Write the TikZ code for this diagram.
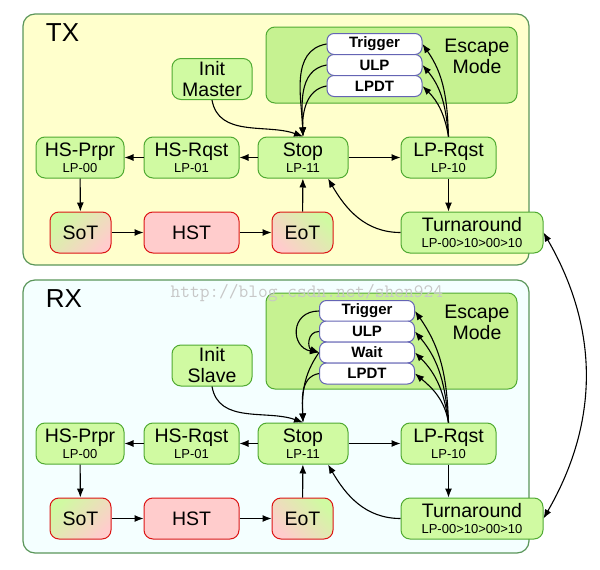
\documentclass[tikz,border=0pt]{standalone}
\usepackage{fontspec}
\setmainfont{Liberation Sans}
\usetikzlibrary{arrows.meta}

\definecolor{keltainen}{RGB}{255,255,204}
\definecolor{syaani}{RGB}{244,255,255}
\definecolor{reuna}{RGB}{90,150,90}
\definecolor{vihrea}{RGB}{80,170,50}
\definecolor{vaalea}{RGB}{208,250,162}
\definecolor{pako}{RGB}{198,242,145}
\definecolor{sininen}{RGB}{100,100,180}
\definecolor{punainen}{RGB}{220,20,20}
\definecolor{pinkki}{RGB}{255,204,204}

\begin{document}
\begin{tikzpicture}[x=1pt,y=-1pt,>={Latex[length=9pt,width=7pt]},line width=1.1pt,
  tila/.style={draw=vihrea,fill=vaalea,line width=1pt,rounded corners=9pt,align=center,
    inner sep=0pt,minimum height=41pt,font=\fontsize{19.5}{16}\selectfont},
  hs/.style={draw=punainen,line width=1pt,rounded corners=9pt,inner sep=0pt,
    minimum height=41pt,font=\fontsize{19.5}{16}\selectfont},
  esc/.style={draw=sininen,fill=white,line width=1pt,rounded corners=7pt,inner sep=0pt,
    minimum width=95pt,minimum height=21pt,font=\bfseries\fontsize{15}{15}\selectfont},
  laatikko/.style={draw=vihrea,fill=pako,line width=1pt,rounded corners=9pt},
  otsikko/.style={font=\fontsize{26}{26}\selectfont}]
\newcommand\pieni[1]{{\fontsize{13}{16}\selectfont #1}}
\useasboundingbox (0,0) rectangle (600,570);
\draw[draw=reuna,fill=keltainen,line width=1.2pt,rounded corners=12pt] (23,14) rectangle (529,265);
\draw[draw=reuna,fill=syaani,line width=1.2pt,rounded corners=12pt] (23,280) rectangle (529,553);
% TX
\begin{scope}
\draw[laatikko] (266,27) rectangle (517,103);
\node[otsikko] (tx) at (62.5,32.5) {TX};
\node[align=center,font=\fontsize{19.5}{21}\selectfont] (em) at (477,56) {Escape\\Mode};
\node[esc] (trig) at (374.5,44) {Trigger};
\node[esc] (ulp) at (374.5,65) {ULP};
\node[esc] (lpdt) at (374.5,86) {LPDT};
\node[tila,minimum width=80pt,font=\fontsize{19.5}{21}\selectfont] (init) at (212,79) {Init\\Master};
\node[tila,minimum width=88pt] (prpr) at (80,157.5) {HS-Prpr\\\pieni{LP-00}};
\node[tila,minimum width=95pt] (rqst) at (191.5,157.5) {HS-Rqst\\\pieni{LP-01}};
\node[tila,minimum width=90pt] (stop) at (303,157.5) {Stop\\\pieni{LP-11}};
\node[tila,minimum width=95pt] (lprq) at (448.5,157.5) {LP-Rqst\\\pieni{LP-10}};
\node[hs,minimum width=61pt,top color=vaalea,bottom color=pinkki,shading angle=45] (sot) at (80.5,232.5) {SoT};
\node[hs,minimum width=95pt,fill=pinkki] (hst) at (191.5,232.5) {HST};
\node[hs,minimum width=61pt,top color=vaalea,bottom color=pinkki,shading angle=-45] (eot) at (302.5,232.5) {EoT};
\node[tila,minimum width=142pt] (t1) at (472,232.5) {Turnaround\\\pieni{LP-00>10>00>10}};
\draw[->] (init.south) to[out=-80,in=160] (stop.north);
\draw[->] (trig.west) to[out=190,in=92] (stop.north);
\draw[->] (ulp.west) to[out=190,in=92] (stop.north);
\draw[->] (lpdt.west) to[out=190,in=92] (stop.north);
\draw[->] (lprq.north) to[out=92,in=-55] (trig.east);
\draw[->] (lprq.north) to[out=95,in=-50] (ulp.east);
\draw[->] (lprq.north) to[out=100,in=-45] (lpdt.east);
\draw[->] (stop) -- (lprq);
\draw[->] (stop) -- (rqst);
\draw[->] (rqst) -- (prpr);
\draw[->] (prpr) -- (sot);
\draw[->] (sot) -- (hst);
\draw[->] (hst) -- (eot);
\draw[->] (eot) -- (stop);
\draw[->] (lprq.south) -- (lprq.south |- t1.north);
\draw[->] (t1.west) to[out=180,in=-60] (stop.-40);
\end{scope}
% RX
\begin{scope}[yshift=-286pt]
\draw[laatikko] (266,7) rectangle (517,103);
\node[otsikko] (rx) at (64,12.5) {RX};
\node[align=center,font=\fontsize{19.5}{21}\selectfont] (em) at (477,36.5) {Escape\\Mode};
\node[esc] (trig) at (367,25) {Trigger};
\node[esc] (ulp) at (367,45.5) {ULP};
\node[esc] (wait) at (367,66.5) {Wait};
\node[esc] (lpdt) at (367,87.5) {LPDT};
\node[tila,minimum width=80pt,font=\fontsize{19.5}{21}\selectfont] (init) at (212,79.5) {Init\\Slave};
\node[tila,minimum width=88pt] (prpr) at (80,157.5) {HS-Prpr\\\pieni{LP-00}};
\node[tila,minimum width=95pt] (rqst) at (191.5,157.5) {HS-Rqst\\\pieni{LP-01}};
\node[tila,minimum width=90pt] (stop) at (303,157.5) {Stop\\\pieni{LP-11}};
\node[tila,minimum width=95pt] (lprq) at (448.5,157.5) {LP-Rqst\\\pieni{LP-10}};
\node[hs,minimum width=61pt,top color=vaalea,bottom color=pinkki,shading angle=45] (sot) at (80.5,232.5) {SoT};
\node[hs,minimum width=95pt,fill=pinkki] (hst) at (191.5,232.5) {HST};
\node[hs,minimum width=61pt,top color=vaalea,bottom color=pinkki,shading angle=-45] (eot) at (302.5,232.5) {EoT};
\node[tila,minimum width=142pt] (t2) at (472,232.5) {Turnaround\\\pieni{LP-00>10>00>10}};
\draw[->] (init.south) to[out=-80,in=160] (stop.north);
\draw[->] (trig.west) to[out=180,in=170,looseness=1.8] (wait.west);
\draw[->] (ulp.west) to[out=180,in=160,looseness=1.5] (wait.west);
\draw[->] (wait.west) to[out=235,in=92] (stop.north);
\draw[->] (lpdt.west) to[out=190,in=92] (stop.north);
\draw[->] (lprq.north) to[out=92,in=-55] (trig.east);
\draw[->] (lprq.north) to[out=95,in=-50] (ulp.east);
\draw[->] (lprq.north) to[out=98,in=-45] (wait.east);
\draw[->] (lprq.north) to[out=100,in=-40] (lpdt.east);
\draw[->] (stop) -- (lprq);
\draw[->] (stop) -- (rqst);
\draw[->] (rqst) -- (prpr);
\draw[->] (prpr) -- (sot);
\draw[->] (sot) -- (hst);
\draw[->] (hst) -- (eot);
\draw[->] (eot) -- (stop);
\draw[->] (lprq.south) -- (lprq.south |- t2.north);
\draw[->] (t2.west) to[out=180,in=-60] (stop.-40);
\end{scope}
\draw[<->] (t1.east) to[out=-60,in=60] (t2.east);
\node[anchor=base west,inner sep=0pt,text=black!22,font=\ttfamily\fontsize{18.9}{19}\selectfont] (wm) at (170,297) {http://blog.csdn.net/shen924};
\end{tikzpicture}
\end{document}
